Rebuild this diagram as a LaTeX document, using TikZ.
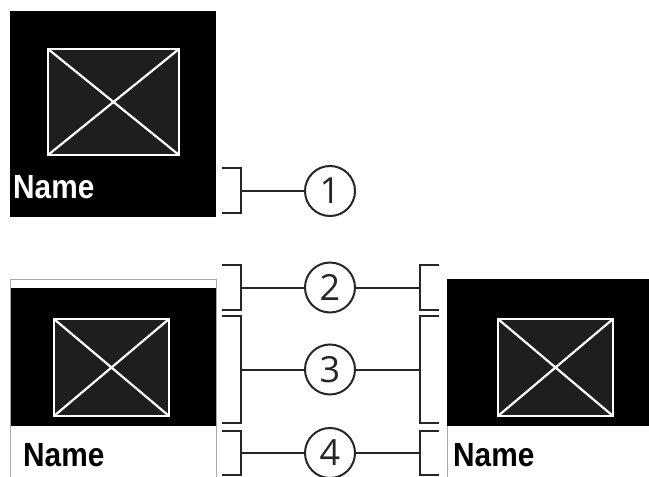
\documentclass[tikz,border=0pt]{standalone}
\usepackage{fontspec}
\newfontfamily\namefont[FakeStretch=0.89]{Liberation Sans Bold}
\newfontfamily\numfont{Open Sans}
\definecolor{imgfill}{HTML}{1F1E1C}
\definecolor{linegray}{HTML}{262626}
\definecolor{bordergray}{HTML}{A8A8A8}
\tikzset{
  imgbox/.style={draw=white, line width=2.5pt, fill=imgfill},
  imgx/.style={draw=white, line width=2.2pt},
  namelabel/.style={anchor=base west, inner sep=0pt, font=\namefont\fontsize{33.5}{34}\selectfont},
  numcircle/.style={circle, draw=linegray, line width=2pt, minimum size=50pt, inner sep=0pt, font=\numfont\fontsize{36}{36}\selectfont, text=linegray},
  bracket/.style={draw=linegray, line width=2pt},
  conn/.style={draw=linegray, line width=2pt}
}
\begin{document}
\begin{tikzpicture}[x=1pt, y=-1pt]
\useasboundingbox (0,0) rectangle (649,477);
% top panel
\fill[black] (10,11) rectangle (216,217);
\draw[imgbox] (48,49) rectangle (179,155);
\draw[imgx] (48,49) -- (179,155) (48,155) -- (179,49);
\node[namelabel, text=white] (n1) at (13,198) {Name};
% bottom left panel
\fill[black] (10,288) rectangle (216,426);
\draw[bordergray, line width=1pt] (10,477) -- (10,279) -- (216,279) -- (216,477);
\draw[imgbox] (54,319) rectangle (169,416);
\draw[imgx] (54,319) -- (169,416) (54,416) -- (169,319);
\node[namelabel, text=black] (n2) at (23,466) {Name};
% bottom right panel
\fill[black] (447,279) rectangle (649,426);
\draw[bordergray, line width=1pt] (447,426) -- (447,477);
\draw[imgbox] (498,319) rectangle (613,416);
\draw[imgx] (498,319) -- (613,416) (498,416) -- (613,319);
\node[namelabel, text=black] (n3) at (453,466) {Name};
% circles
\node[numcircle] (c1) at (330,191) {1};
\node[numcircle] (c2) at (330,287.5) {2};
\node[numcircle] (c3) at (330,369.5) {3};
\node[numcircle] (c4) at (330,453) {4};
% left brackets
\draw[bracket] (222,168) -- (241,168) -- (241,213) -- (222,213);
\draw[bracket] (222,265) -- (241,265) -- (241,310) -- (222,310);
\draw[bracket] (222,316) -- (241,316) -- (241,423) -- (222,423);
\draw[bracket] (222,431) -- (241,431) -- (241,475) -- (222,475);
% right brackets
\draw[bracket] (439,265) -- (420,265) -- (420,310) -- (439,310);
\draw[bracket] (439,316) -- (420,316) -- (420,423) -- (439,423);
\draw[bracket] (439,431) -- (420,431) -- (420,475) -- (439,475);
% bracket midpoints
\coordinate (l1) at (241,191);
\coordinate (l2) at (241,287.5);
\coordinate (l3) at (241,369.5);
\coordinate (l4) at (241,453);
\coordinate (r2) at (420,287.5);
\coordinate (r3) at (420,369.5);
\coordinate (r4) at (420,453);
% connectors
\draw[conn] (l1) -- (c1);
\draw[conn] (l2) -- (c2);
\draw[conn] (l3) -- (c3);
\draw[conn] (l4) -- (c4);
\draw[conn] (c2) -- (r2);
\draw[conn] (c3) -- (r3);
\draw[conn] (c4) -- (r4);
\end{tikzpicture}
\end{document}
